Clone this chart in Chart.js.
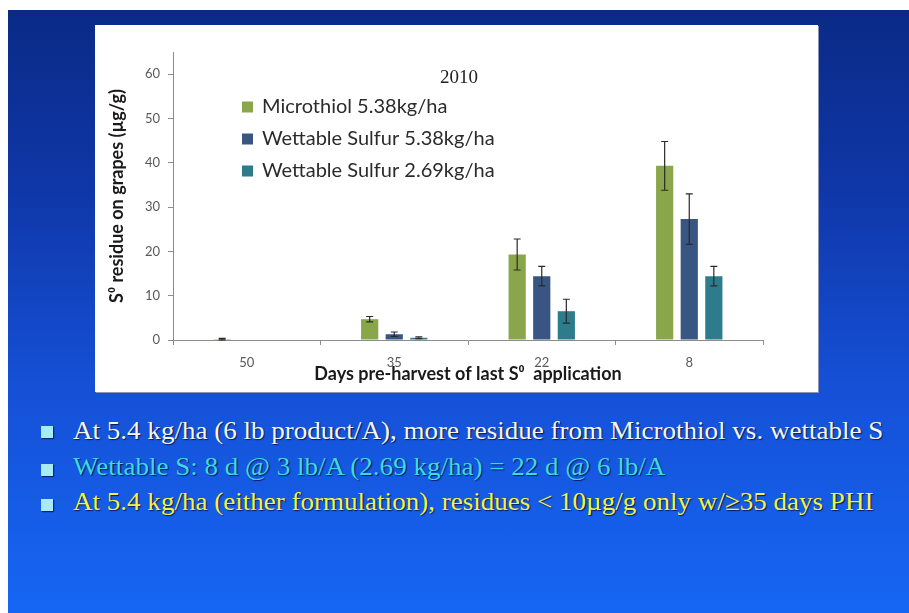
<!DOCTYPE html>
<html>
<head>
<meta charset="utf-8">
<script src="https://cdn.jsdelivr.net/npm/chart.js@4.4.1/dist/chart.umd.min.js"></script>
<style>
  html, body { margin: 0; padding: 0; }
  body { width: 909px; height: 613px; position: relative; overflow: hidden; background: #fff; }
  #slide { position: absolute; left: 8px; top: 10px; right: 0; bottom: 0;
    background: linear-gradient(to bottom, #0a2a86 0%, #0f37a8 30%, #1550d6 62%, #1666f4 100%); }
  #panel { position: absolute; left: 95px; top: 25px; width: 723px; height: 367px; background: #fff;
    box-shadow: 1px 1px 0 #8a93b8; }
  #panel canvas { display: block; }
  .bl { position: absolute; left: 41px; height: 30px; font-family: "Liberation Serif", "Times New Roman", serif;
    font-size: 26px; line-height: 30px; white-space: nowrap; text-shadow: 1px 1px 1px rgba(0,0,30,0.7); }
  .bl .sq { position: absolute; left: 0; width: 12px; height: 12px; background: #a6ecf2; box-shadow: 1px 1px 1px rgba(0,0,30,0.6); }
  .bl .tx { position: absolute; left: 32px; top: 0; transform-origin: 0 0; transform: scaleX(1.04); }
</style>
</head>
<body>
<div id="slide"></div>
<div id="panel"><canvas id="c" width="723" height="367"></canvas></div>
<div class="bl" style="top:416px;color:#f6f6f6"><span class="sq" style="top:10px"></span><span class="tx">At 5.4 kg/ha (6 lb product/A), more residue from Microthiol vs. wettable S</span></div>
<div class="bl" style="top:452px;color:#3fd9e6"><span class="sq" style="top:12px"></span><span class="tx">Wettable S: 8 d @ 3 lb/A (2.69 kg/ha) = 22 d @ 6 lb/A</span></div>
<div class="bl" style="top:487px;color:#f4f24a"><span class="sq" style="top:12px"></span><span class="tx">At 5.4 kg/ha (either formulation), residues &lt; 10µg/g only w/≥35 days PHI</span></div>
<script>
const categories = ['50', '35', '22', '8'];
const seriesNames = ['Microthiol 5.38kg/ha', 'Wettable Sulfur 5.38kg/ha', 'Wettable Sulfur 2.69kg/ha'];
const microthiol = [0.2, 4.7, 19.3, 39.3];
const microthiolErr = [0.15, 0.6, 3.5, 5.5];
const wettable538 = [0, 1.3, 14.4, 27.3];
const wettable538Err = [0, 0.5, 2.2, 5.7];
const wettable269 = [0, 0.5, 6.5, 14.4];
const wettable269Err = [0, 0.2, 2.7, 2.2];
const yTicks = [0, 10, 20, 30, 40, 50, 60];
const chartTitle = '2010';
const colors = ['#8aa64b', '#395683', '#2e7c8b'];

const errorBars = {
  id: 'errorBars',
  afterDatasetsDraw(chart) {
    const ctx = chart.ctx, y = chart.scales.y;
    chart.data.datasets.forEach((ds, i) => {
      const meta = chart.getDatasetMeta(i);
      meta.data.forEach((bar, j) => {
        const v = ds.data[j], e = ds.errors[j];
        if (!e) return;
        const top = y.getPixelForValue(v + e), bot = y.getPixelForValue(Math.max(0, v - e));
        ctx.save();
        ctx.strokeStyle = '#2a2a2a';
        ctx.lineWidth = 1.2;
        ctx.beginPath();
        ctx.moveTo(bar.x, top); ctx.lineTo(bar.x, bot);
        ctx.moveTo(bar.x - 3.5, top); ctx.lineTo(bar.x + 3.5, top);
        ctx.moveTo(bar.x - 3.5, bot); ctx.lineTo(bar.x + 3.5, bot);
        ctx.stroke();
        ctx.restore();
      });
    });
  }
};

const customLegend = {
  id: 'customLegend',
  afterDraw(chart) {
    const ctx = chart.ctx, a = chart.chartArea;
    ctx.save();
    ctx.fillStyle = '#222';
    ctx.font = '19px "Liberation Serif", serif';
    ctx.textAlign = 'center';
    ctx.textBaseline = 'middle';
    ctx.fillText(chartTitle, a.left + 286, a.top + 26);
    ctx.font = '20px Lato, "Open Sans", sans-serif';
    ctx.textAlign = 'left';
    chart.data.datasets.forEach((ds, i) => {
      const yy = a.top + 55 + i * 32;
      ctx.fillStyle = ds.backgroundColor;
      ctx.fillRect(a.left + 69, yy - 5.5, 11, 11);
      ctx.fillStyle = '#2b2b2b';
      ctx.fillText(ds.label, a.left + 89, yy);
    });
    ctx.restore();
  }
};

const mk = (i, data, err) => ({ label: seriesNames[i], data: data, errors: err, backgroundColor: colors[i],
  categoryPercentage: 0.5, barPercentage: 0.7 });

new Chart(document.getElementById('c'), {
  type: 'bar',
  data: {
    labels: categories,
    datasets: [mk(0, microthiol, microthiolErr), mk(1, wettable538, wettable538Err), mk(2, wettable269, wettable269Err)]
  },
  options: {
    responsive: false,
    animation: false,
    layout: { padding: { top: 27, right: 55, left: 0, bottom: 0 } },
    plugins: { legend: { display: false }, tooltip: { enabled: false } },
    scales: {
      x: {
        afterFit(s) { s.height = 52; },
        grid: { drawOnChartArea: false, offset: true, tickLength: 5, color: '#8c8c8c' },
        border: { color: '#8c8c8c' },
        ticks: { color: '#595959', font: { family: 'Lato, "Open Sans", sans-serif', size: 13 }, padding: 10 },
        title: { display: true, text: 'Days pre-harvest of last S⁰  application', color: '#1a1a1a',
          font: { family: 'Lato, "Open Sans", sans-serif', size: 18, weight: 'bold' }, padding: { top: 0, bottom: 7 } }
      },
      y: {
        min: 0, max: 65,
        afterFit(s) { s.width = 78; },
        afterBuildTicks(s) { s.ticks = yTicks.map(v => ({ value: v })); },
        grid: { drawOnChartArea: false, tickLength: 5, color: '#8c8c8c' },
        border: { color: '#8c8c8c' },
        ticks: { color: '#595959', font: { family: 'Lato, "Open Sans", sans-serif', size: 13 }, padding: 8 },
        title: { display: true, text: 'S⁰ residue on grapes (µg/g)', color: '#1a1a1a',
          font: { family: 'Lato, "Open Sans", sans-serif', size: 18, weight: 'bold' }, padding: { top: 11, bottom: 0 } }
      }
    }
  },
  plugins: [errorBars, customLegend]
});
</script>
</body>
</html>
